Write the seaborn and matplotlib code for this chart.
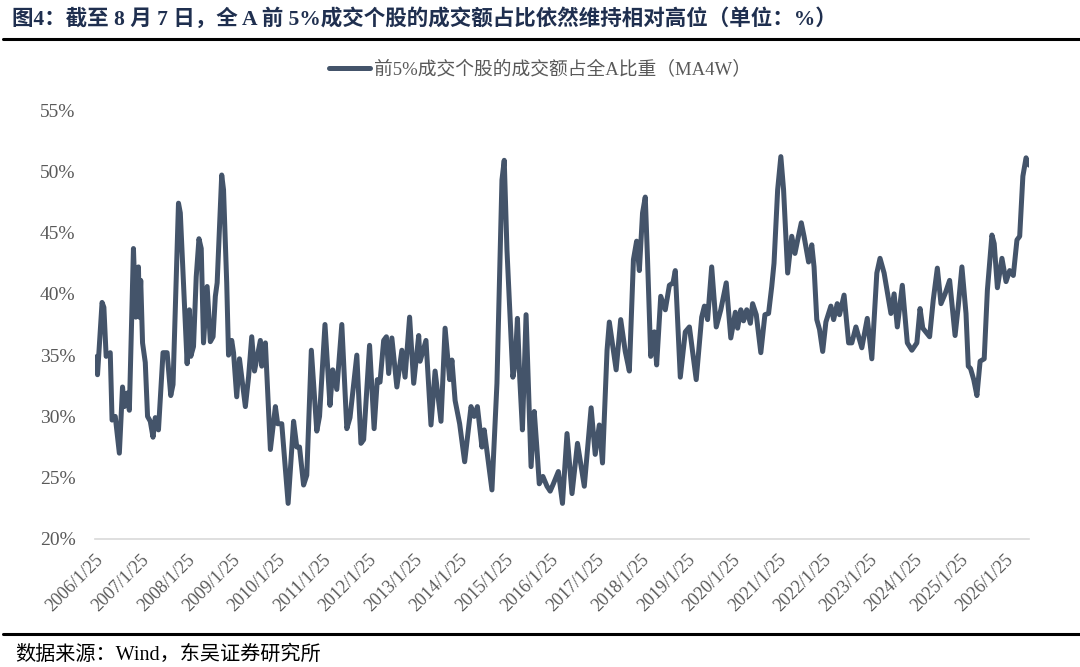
import numpy as np
import pandas as pd
import matplotlib
matplotlib.use("Agg")
import matplotlib.pyplot as plt
import seaborn as sns

# Readings taken from the chart: time as decimal years, share of turnover in %.
years = [
    2006.11, 2006.12, 2006.22, 2006.26, 2006.31, 2006.40, 2006.44, 2006.51, 2006.60, 2006.67,
    2006.71, 2006.77, 2006.82, 2006.91, 2006.96, 2007.02, 2007.04, 2007.07, 2007.11, 2007.17,
    2007.22, 2007.28, 2007.34, 2007.39, 2007.46, 2007.56, 2007.65, 2007.73, 2007.78, 2007.90,
    2007.94, 2008.01, 2008.09, 2008.14, 2008.17, 2008.23, 2008.29, 2008.35, 2008.40, 2008.45,
    2008.53, 2008.60, 2008.66, 2008.71, 2008.75, 2008.85, 2008.89, 2008.96, 2009.00, 2009.07,
    2009.11, 2009.18, 2009.24, 2009.37, 2009.44, 2009.51, 2009.57, 2009.70, 2009.73, 2009.81,
    2009.92, 2010.03, 2010.08, 2010.17, 2010.31, 2010.43, 2010.50, 2010.56, 2010.65, 2010.72,
    2010.82, 2010.94, 2011.00, 2011.12, 2011.23, 2011.29, 2011.38, 2011.49, 2011.60, 2011.67,
    2011.82, 2011.91, 2011.97, 2012.10, 2012.20, 2012.27, 2012.33, 2012.41, 2012.47, 2012.52,
    2012.59, 2012.70, 2012.81, 2012.88, 2012.98, 2013.07, 2013.18, 2013.21, 2013.34, 2013.45,
    2013.54, 2013.67, 2013.76, 2013.86, 2013.91, 2013.98, 2014.08, 2014.19, 2014.33, 2014.40,
    2014.47, 2014.57, 2014.62, 2014.79, 2014.90, 2015.01, 2015.06, 2015.12, 2015.19, 2015.25,
    2015.30, 2015.35, 2015.40, 2015.46, 2015.54, 2015.59, 2015.65, 2015.72, 2015.78, 2015.83,
    2015.91, 2016.00, 2016.07, 2016.14, 2016.25, 2016.34, 2016.44, 2016.55, 2016.67, 2016.82,
    2016.97, 2017.06, 2017.15, 2017.22, 2017.32, 2017.37, 2017.52, 2017.62, 2017.72, 2017.81,
    2017.90, 2017.97, 2018.03, 2018.10, 2018.16, 2018.21, 2018.28, 2018.36, 2018.41, 2018.50,
    2018.60, 2018.69, 2018.77, 2018.82, 2018.93, 2019.04, 2019.13, 2019.28, 2019.40, 2019.46,
    2019.53, 2019.62, 2019.72, 2019.82, 2019.94, 2020.04, 2020.14, 2020.19, 2020.26, 2020.32,
    2020.39, 2020.47, 2020.52, 2020.60, 2020.70, 2020.79, 2020.87, 2020.94, 2020.99, 2021.07,
    2021.14, 2021.20, 2021.29, 2021.38, 2021.45, 2021.51, 2021.59, 2021.65, 2021.75, 2021.82,
    2021.87, 2021.93, 2021.99, 2022.06, 2022.13, 2022.24, 2022.30, 2022.38, 2022.43, 2022.53,
    2022.63, 2022.70, 2022.79, 2022.92, 2023.04, 2023.14, 2023.25, 2023.32, 2023.41, 2023.56,
    2023.63, 2023.70, 2023.81, 2023.92, 2024.02, 2024.13, 2024.20, 2024.26, 2024.41, 2024.49,
    2024.58, 2024.66, 2024.75, 2024.85, 2024.97, 2025.04, 2025.12, 2025.21, 2025.26, 2025.31,
    2025.38, 2025.45, 2025.52, 2025.61, 2025.68, 2025.78, 2025.83, 2025.90, 2026.00, 2026.09,
    2026.17, 2026.25, 2026.33, 2026.39, 2026.46, 2026.53, 2026.60,
]
share = [
    34.9, 33.4, 39.3, 38.9, 34.9, 35.2, 29.7, 30.0, 27.0, 32.4,
    30.8, 31.9, 30.5, 43.7, 38.1, 42.2, 38.1, 41.1, 36.0, 34.4,
    30.0, 29.6, 28.3, 29.9, 28.9, 35.2, 35.2, 31.7, 32.6, 47.4,
    46.6, 40.9, 34.3, 38.7, 34.9, 35.7, 41.4, 44.5, 43.7, 36.0,
    40.6, 36.1, 36.5, 39.8, 40.9, 49.7, 48.5, 40.9, 35.0, 36.2,
    35.2, 31.6, 34.7, 30.8, 33.2, 36.5, 33.7, 36.2, 34.1, 36.0,
    27.3, 30.8, 29.4, 29.4, 22.9, 29.6, 27.5, 27.5, 24.4, 25.2,
    35.4, 28.8, 30.0, 37.5, 30.9, 33.8, 32.2, 37.5, 29.0, 29.9,
    35.0, 27.8, 28.1, 35.8, 29.0, 33.0, 32.8, 36.2, 36.5, 33.5,
    36.4, 32.4, 35.4, 33.2, 38.1, 32.7, 36.6, 34.5, 36.2, 29.3,
    33.7, 29.6, 37.2, 33.0, 34.6, 31.3, 29.4, 26.3, 30.8, 30.0,
    30.8, 27.5, 28.9, 24.0, 32.7, 49.3, 50.9, 43.6, 38.1, 33.2,
    34.3, 38.0, 33.2, 28.9, 38.3, 32.7, 25.9, 30.4, 27.3, 24.5,
    25.1, 24.3, 23.9, 24.5, 25.5, 22.9, 28.6, 23.7, 27.8, 24.3,
    30.7, 26.9, 29.3, 26.2, 35.4, 37.7, 33.8, 37.9, 35.3, 33.7,
    42.8, 44.3, 41.9, 46.6, 47.9, 42.8, 34.9, 36.9, 34.2, 39.8,
    38.7, 40.7, 40.9, 41.9, 33.2, 36.9, 37.3, 33.0, 38.1, 39.0,
    37.9, 42.2, 37.3, 38.7, 40.9, 36.4, 38.5, 37.2, 38.7, 37.8,
    38.7, 37.6, 39.2, 38.3, 35.2, 38.3, 38.4, 40.6, 42.5, 48.5,
    51.2, 48.5, 41.7, 44.7, 43.3, 44.4, 45.8, 44.7, 42.6, 44.0,
    42.2, 37.9, 37.1, 35.3, 37.7, 39.0, 37.9, 39.2, 38.3, 39.9,
    36.0, 36.0, 37.3, 35.6, 38.0, 34.7, 41.7, 42.9, 41.7, 38.4,
    40.0, 37.3, 40.7, 36.0, 35.4, 36.0, 38.8, 37.2, 36.5, 39.5,
    42.1, 39.2, 40.0, 41.1, 36.6, 39.0, 42.2, 38.4, 34.1, 33.9,
    33.0, 31.7, 34.5, 34.7, 40.3, 44.8, 44.1, 40.5, 42.9, 41.0,
    41.9, 41.5, 44.4, 44.7, 49.6, 51.1, 50.5,
]

tick_labels = [f"{y}/1/25" for y in range(2006, 2027)]
tick_pos = [y + 24 / 365 for y in range(2006, 2027)]
y_ticks = [20, 25, 30, 35, 40, 45, 50, 55]

series_name = "前5%成交个股的成交额占全A比重（MA4W）"
title = "图4：截至 8 月 7 日，全 A 前 5%成交个股的成交额占比依然维持相对高位（单位：%）"
source = "数据来源：Wind，东吴证券研究所"

sns.set_style("white")
plt.rcParams["font.family"] = ["Liberation Serif", "Noto Sans CJK SC", "DejaVu Sans"]

df = pd.DataFrame({"year": years, "share": share})

fig = plt.figure(figsize=(10.8, 6.67), dpi=100)
ax = fig.add_axes([0.088, 0.192, 0.865, 0.643])

sns.lineplot(data=df, x="year", y="share", ax=ax, color="#44546A",
             linewidth=3.6, label=series_name, legend=False)

ax.set_xlim(tick_pos[0], 2026.60)
ax.set_ylim(20, 55)
ax.set_yticks(y_ticks)
ax.set_yticklabels([f"{v}%" for v in y_ticks], color="#595959", fontsize=14)
ax.set_xticks(tick_pos)
ax.set_xticklabels(tick_labels, rotation=45, ha="right", rotation_mode="anchor",
                   color="#595959", fontsize=13)
ax.tick_params(axis="x", length=5, color="#D9D9D9", width=1, pad=4)
ax.tick_params(axis="y", length=0, pad=14)
ax.set_xlabel("")
ax.set_ylabel("")
for side in ["top", "right", "left"]:
    ax.spines[side].set_visible(False)
ax.spines["bottom"].set_color("#D9D9D9")
ax.spines["bottom"].set_linewidth(1.2)

# Legend centred above the plot.
handles, labels = ax.get_legend_handles_labels()
fig.legend(handles, labels, loc="center", bbox_to_anchor=(0.5, 0.895),
           frameon=False, handlelength=2.2, handletextpad=0.2,
           prop={"size": 13.5}, labelcolor="#595959")

# Report header and footer.
fig.text(0.011, 0.972, title, fontsize=15.5, fontweight="bold", color="#1F2F4F",
         va="center", ha="left")
fig.add_artist(plt.Line2D([0.003, 1.0], [0.941, 0.941], color="black", linewidth=2.2))
fig.add_artist(plt.Line2D([0.003, 1.0], [0.049, 0.049], color="black", linewidth=2.2))
fig.text(0.014, 0.018, source, fontsize=14.5, color="black", va="center", ha="left")

fig.savefig("out.png", dpi=100)
